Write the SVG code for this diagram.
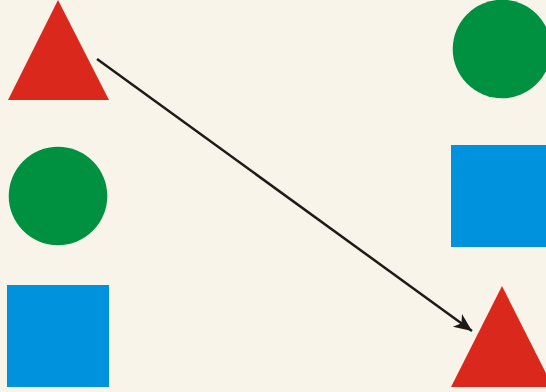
<svg xmlns="http://www.w3.org/2000/svg" width="546" height="392" viewBox="0 0 546 392">
  <style>
    .red{fill:#DA291C}
    .green{fill:#009140}
    .blue{fill:#0092DD}
    .conn{stroke:#1E1A16;stroke-width:2.5;fill:none}
  </style>
  <defs>
    <marker id="arrow" markerUnits="userSpaceOnUse" markerWidth="24" markerHeight="20" viewBox="-20 -10 24 20" refX="0" refY="0" orient="auto">
      <path d="M0,0 L-18,-7.8 L-13,0 L-18,7.8 Z" fill="#1E1A16"/>
    </marker>
  </defs>
  <rect width="546" height="392" fill="#F9F4EA"/>
  <g id="tri-left"><polygon class="red" points="58,0 109,100 8,100"/></g>
  <g id="circle-left"><circle class="green" cx="58" cy="196" r="49.3"/></g>
  <g id="square-left"><rect class="blue" x="7" y="285" width="102" height="102"/></g>
  <g id="circle-right"><circle class="green" cx="502" cy="49" r="49.3"/></g>
  <g id="square-right"><rect class="blue" x="451" y="145" width="102" height="102"/></g>
  <g id="tri-right"><polygon class="red" points="502,286 553,387 451,387"/></g>
  <g id="connectors">
    <path class="conn" d="M97,59 L472,331" marker-end="url(#arrow)"/>
  </g>
</svg>
